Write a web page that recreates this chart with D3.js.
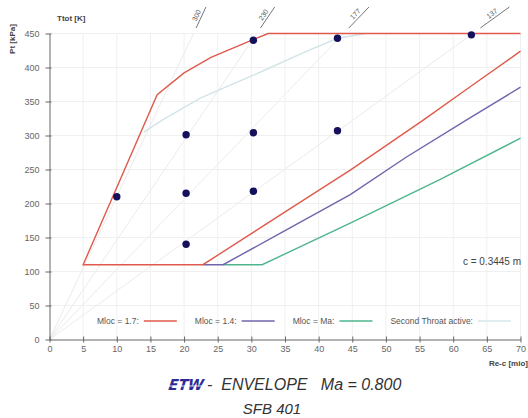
<!DOCTYPE html>
<html>
<head>
<meta charset="utf-8">
<script src="https://cdn.jsdelivr.net/npm/d3@7"></script>
<style>
  body { margin: 0; background: #fff; }
  svg { display: block; font-family: "Liberation Sans", Arial, sans-serif; }
</style>
</head>
<body>
<svg id="chart" width="528" height="418"></svg>
<script>
// envelope curves  [Re-c (mio), Pt (kPa)]
const mloc17 = [[70,424],[62,368],[55.6,323],[44.7,249],[33.8,180],[22.8,110],[5,110],[16,360],[20,392],[24,415],[30,440],[32.5,450],[70,450]]
const mloc14 = [[22.8,110],[25.8,110],[35,160],[44.7,213],[53,268],[62,323],[70,371]]
const mlocMa = [[25.8,110],[31.6,110],[44.7,171],[58,235],[70,296]]
const secondThroat = [[14,305],[17,324],[22.4,355],[31.3,393],[38,423],[42.8,443],[47,450]]

// test points
const reDots = [10, 20.3, 20.3, 20.3, 30.3, 30.3, 30.3, 42.8, 42.8, 62.7]
const ptDots = [210, 301, 215, 140, 440, 304, 218, 443, 307, 448]

// constant Ttot lines, Re where they reach 450 kPa
const ttotLabels = ["300", "230", "177", "137"]
const ttotTopRe = [21.4, 30.8, 43.7, 62.9]

const xTicks = d3.range(0, 71, 5)
const yTicks = d3.range(0, 451, 50)

const legendItems = [
    ["Mloc = 1.7:", "#df5a4c"],
    ["Mloc = 1.4:", "#7065ad"],
    ["Mloc = Ma:", "#4fb58c"],
    ["Second Throat active:", "#d6e6ea"]
]

let svg = d3.select("#chart")

let x = d3.scaleLinear().domain([0, 70]).range([49.5, 520.5])
let y = d3.scaleLinear().domain([0, 450]).range([339.5, 33.5])

// grid
svg.append("g").selectAll("line")
    .data(xTicks.slice(1))
    .enter().append("line")
    .attr("x1", d => x(d)).attr("x2", d => x(d))
    .attr("y1", y(0)).attr("y2", y(450))
    .style("stroke", "#f0f0f0")
svg.append("g").selectAll("line")
    .data(yTicks.slice(1))
    .enter().append("line")
    .attr("x1", x(0)).attr("x2", x(70))
    .attr("y1", d => y(d)).attr("y2", d => y(d))
    .style("stroke", "#f0f0f0")

// Ttot lines from origin
let ttot = svg.append("g")
ttotTopRe.forEach(function(re, i){
    ttot.append("line")
        .attr("x1", x(0)).attr("y1", y(0))
        .attr("x2", x(re)).attr("y2", y(450))
        .style("stroke", "#ebebeb")
    // marker above the plot
    let dx = x(re) - x(0), dy = y(450) - y(0)
    let len = Math.sqrt(dx*dx + dy*dy)
    let x1 = x(0) + dx * (28 - y(0)) / dy, x2 = x(0) + dx * (7 - y(0)) / dy
    ttot.append("line")
        .attr("x1", x1).attr("y1", 28)
        .attr("x2", x2).attr("y2", 7)
        .style("stroke", "#777").style("stroke-width", 1)
    let ang = Math.atan2(dy, dx) * 180 / Math.PI
    let mx = (x1 + x2) / 2 + (dy / len) * 2.5, my = 17.5 - (dx / len) * 2.5
    ttot.append("text")
        .attr("transform", "translate(" + mx + "," + my + ") rotate(" + ang + ")")
        .attr("text-anchor", "middle")
        .style("font-size", "7px")
        .style("fill", "#555")
        .text(ttotLabels[i])
})

// axes
let xAxis = svg.append("g")
    .attr("transform", "translate(0," + y(0) + ")")
    .call(d3.axisBottom(x).tickValues(xTicks).tickSizeInner(3).tickSizeOuter(0).tickPadding(3))
xAxis.selectAll(".tick line").attr("y1", -3)
let yAxis = svg.append("g")
    .attr("transform", "translate(" + x(0) + ",0)")
    .call(d3.axisLeft(y).tickValues(yTicks).tickSizeInner(4).tickSizeOuter(0).tickPadding(6))
yAxis.selectAll(".tick line").attr("x1", 2)
svg.selectAll(".domain").style("stroke", "#666")
svg.selectAll(".tick line").style("stroke", "#666")
svg.selectAll(".tick text").style("font-size", "9px").style("fill", "#666")
    .style("font-family", "'Liberation Sans', Arial, sans-serif")

// axis titles
svg.append("text").attr("x", 57).attr("y", 21)
    .style("font-size", "8px").style("font-weight", "bold").style("fill", "#444")
    .text("Ttot [K]")
svg.append("text")
    .attr("transform", "translate(15,39) rotate(-90)")
    .attr("text-anchor", "middle")
    .style("font-size", "8px").style("font-weight", "bold").style("fill", "#444")
    .text("Pt [kPa]")
svg.append("text").attr("x", 528).attr("y", 366)
    .attr("text-anchor", "end")
    .style("font-size", "8px").style("font-weight", "bold").style("fill", "#444")
    .text("Re-c [mio]")

// curves
let line = d3.line().x(d => x(d[0])).y(d => y(d[1]))
let curves = [[secondThroat, "#d2e4e8"], [mlocMa, "#4fb58c"], [mloc14, "#7065ad"], [mloc17, "#df5a4c"]]
svg.append("g").selectAll("path")
    .data(curves)
    .enter().append("path")
    .attr("d", d => line(d[0]))
    .style("fill", "none")
    .style("stroke", d => d[1])
    .style("stroke-width", 1.4)

// test points
svg.append("g").selectAll("circle")
    .data(reDots)
    .enter().append("circle")
    .attr("cx", d => x(d))
    .attr("cy", (d, i) => y(ptDots[i]))
    .attr("r", 3.7)
    .style("fill", "#14105c")

svg.append("text").attr("x", 521).attr("y", 265)
    .attr("text-anchor", "end")
    .style("font-size", "10px").style("fill", "#444")
    .text("c = 0.3445 m")

// legend
let lx = 97
legendItems.forEach(function(item){
    let t = svg.append("text").attr("x", lx).attr("y", 324)
        .style("font-size", "8.5px").style("fill", "#555")
        .text(item[0])
    let w = t.node().getComputedTextLength()
    svg.append("line")
        .attr("x1", lx + w + 5).attr("x2", lx + w + 38)
        .attr("y1", 321).attr("y2", 321)
        .style("stroke", item[1]).style("stroke-width", 1.4)
    lx = lx + w + 56
})

// title
let logo = svg.append("g").attr("transform", "translate(167,390) skewX(-18)")
logo.append("text")
    .style("font-size", "15px").style("font-weight", "900")
    .style("font-family", "'DejaVu Sans', sans-serif")
    .style("fill", "#2e2a96")
    .attr("textLength", 35).attr("lengthAdjust", "spacingAndGlyphs")
    .text("ETW")
logo.append("line").attr("x1", -2).attr("x2", 38).attr("y1", -4).attr("y2", -4)
    .style("stroke", "#fff").style("stroke-width", 0.8)
svg.append("text").attr("x", 207).attr("y", 390)
    .style("font-size", "16px").style("font-style", "italic").style("fill", "#333")
    .attr("xml:space", "preserve")
    .text("-  ENVELOPE   Ma = 0.800")
svg.append("text").attr("x", 272).attr("y", 414)
    .attr("text-anchor", "middle")
    .style("font-size", "15px").style("font-style", "italic").style("fill", "#333")
    .text("SFB 401")
</script>
</body>
</html>
